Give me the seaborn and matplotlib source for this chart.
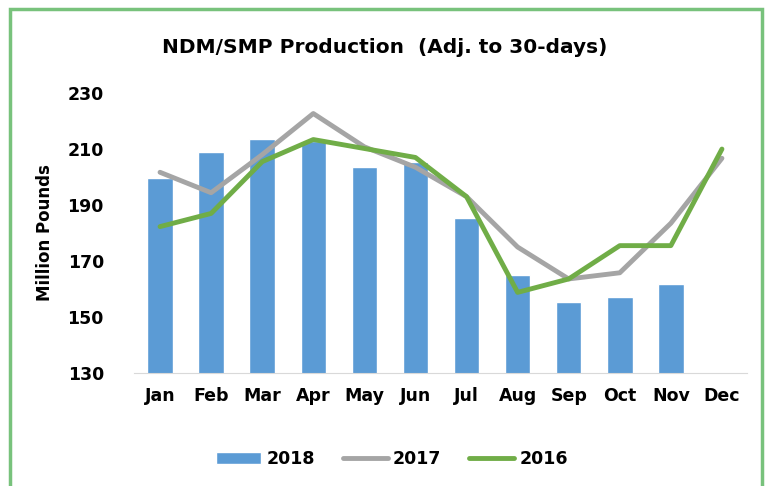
import numpy as np
import pandas as pd
import seaborn as sns
import matplotlib.pyplot as plt
from matplotlib.patches import Rectangle

months = ['Jan', 'Feb', 'Mar', 'Apr', 'May', 'Jun', 'Jul', 'Aug', 'Sep', 'Oct', 'Nov', 'Dec']
prod_2018 = [199.5, 209, 213.5, 213, 203.5, 205.5, 185.5, 165, 155.3, 157, 161.7, np.nan]
prod_2017 = [201.7, 194.4, 208, 222.7, 210.8, 203.5, 193, 175, 163.6, 165.8, 183.5, 206.7]
prod_2016 = [182.3, 187, 205.5, 213.4, 210.2, 207, 193, 158.8, 163.6, 175.5, 175.5, 210]

df = pd.DataFrame({'month': months, '2018': prod_2018, '2017': prod_2017, '2016': prod_2016})

sns.set_style('white')
plt.rcParams['font.family'] = ['DejaVu Sans']
plt.rcParams['text.color'] = 'black'
plt.rcParams['xtick.color'] = 'black'
plt.rcParams['ytick.color'] = 'black'
plt.rcParams['axes.labelcolor'] = 'black'

fig = plt.figure(figsize=(7.65, 4.86), dpi=100)
ax = fig.add_axes([0.1758, 0.2325, 0.8013, 0.576])

sns.barplot(data=df, x='month', y='2018', order=months, color='#5B9BD5',
            width=0.5, saturation=1, ax=ax, label='2018')
sns.lineplot(data=df, x='month', y='2017', color='#A5A5A5', linewidth=3.5, ax=ax, label='2017')
sns.lineplot(data=df, x='month', y='2016', color='#70AD47', linewidth=3.5, ax=ax, label='2016')

ax.set_ylim(130, 230)
ax.set_yticks(range(130, 231, 20))
ax.set_xlim(-0.5, 11.5)
ax.set_xlabel('')
ax.set_ylabel('Million Pounds', fontsize=12, fontweight='bold', labelpad=10)
ax.tick_params(axis='both', length=0, labelsize=12.5)
ax.tick_params(axis='x', pad=10)
ax.tick_params(axis='y', pad=22)
for lbl in ax.get_xticklabels() + ax.get_yticklabels():
    lbl.set_fontweight('bold')
for s in ['top', 'right', 'left']:
    ax.spines[s].set_visible(False)
ax.spines['bottom'].set_color('#D9D9D9')

handles, labels = ax.get_legend_handles_labels()
order = [labels.index(k) for k in ['2018', '2017', '2016']]
ax.legend([handles[i] for i in order], [labels[i] for i in order],
          loc='upper center', bbox_to_anchor=(0.42, -0.22), ncol=3, frameon=False,
          prop={'weight': 'bold', 'size': 12.5}, handlelength=2.6, handletextpad=0.3,
          columnspacing=1.6)

fig.text(0.503, 0.903, 'NDM/SMP Production  (Adj. to 30-days)', ha='center', va='center',
         fontsize=14.5, fontweight='bold')

fig.patches.append(Rectangle((10 / 765, -0.05), 752 / 765, 1 - 9 / 486 + 0.05, transform=fig.transFigure,
                             fill=False, edgecolor='#78C27C', linewidth=2.5))

fig.savefig('out.png', dpi=100)
